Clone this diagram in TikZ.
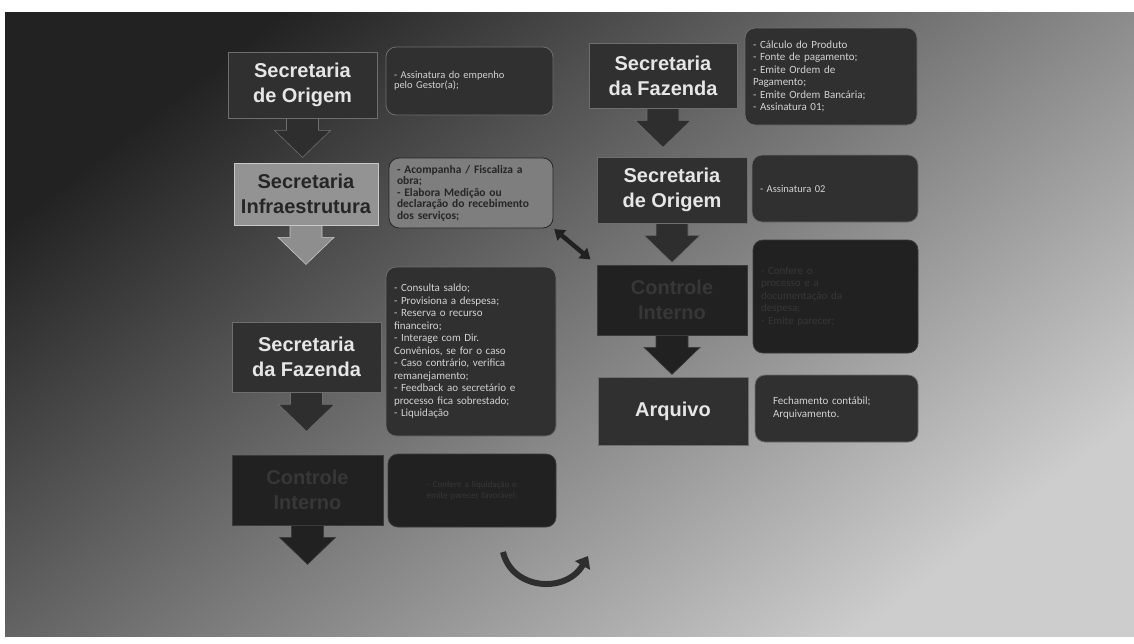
\documentclass[tikz,border=0pt]{standalone}
\usepackage{fontspec}
\setmainfont{Liberation Sans}
\newfontfamily\detfont{Carlito}
\usetikzlibrary{calc,arrows.meta}
\pgfdeclarelayer{back}
\pgfdeclarelayer{arrows}
\pgfsetlayers{back,arrows,main}
\definecolor{bgA}{HTML}{222222}
\definecolor{bgB}{HTML}{6A6A6A}
\definecolor{bgC}{HTML}{CDCDCD}
\definecolor{boxfill}{HTML}{303030}
\definecolor{boxline}{HTML}{6E6E6E}
\definecolor{ttext}{HTML}{E6E6E6}
\definecolor{dtext}{HTML}{D2D2D2}
\definecolor{ctlfill}{HTML}{212121}
\definecolor{ctlline}{HTML}{3A3A3A}
\definecolor{ctltext}{HTML}{373737}
\definecolor{infrafill}{HTML}{939393}
\definecolor{infraline}{HTML}{C8C8C8}
\definecolor{infratext}{HTML}{262626}
\definecolor{infradfill}{HTML}{7E7E7E}
\definecolor{arrowfill}{HTML}{2E2E2E}
\newcommand\blockarrow[2]{%
  \filldraw[#1] ($(#2.south)+(-16,-2)$) -- ($(#2.south)+(-16,12)$) -- ($(#2.south)+(-28,12)$)
    -- ($(#2.south)+(0,39)$) -- ($(#2.south)+(28,12)$) -- ($(#2.south)+(16,12)$)
    -- ($(#2.south)+(16,-2)$) -- cycle;}
\begin{document}
\begin{tikzpicture}[x=1pt,y=-1pt,
  titlebox/.style={draw=boxline, line width=0.8pt, fill=boxfill, text=ttext,
    font=\fontsize{20}{25}\selectfont\bfseries, align=center, inner sep=0pt},
  ctlbox/.style={titlebox, fill=ctlfill, draw=ctlline, text=ctltext},
  infrabox/.style={titlebox, fill=infrafill, draw=infraline, text=infratext},
  detbox/.style={draw=boxline, line width=0.8pt, fill=boxfill, text=dtext, rounded corners=10pt,
    align=left, inner xsep=8pt, inner ysep=4pt, font=\detfont\fontsize{11}{12.5}\selectfont},
  ctldet/.style={detbox, fill=ctlfill, draw=ctlline, text=ctltext},
  infradet/.style={detbox, fill=infradfill, draw=infratext, text=infratext,
    font=\detfont\bfseries\fontsize{11.5}{11.5}\selectfont},
  darrow/.style={fill=arrowfill, draw=boxline, line width=0.6pt},
  carrow/.style={fill=ctlfill, draw=ctlline, line width=0.6pt},
  larrow/.style={fill=infrafill!105, draw=infraline, line width=0.6pt},
  link/.style={draw=ctlfill, line width=4.5pt}
]
\useasboundingbox (0,0) rectangle (1134,643);
\begin{pgfonlayer}{back}
\fill[white] (0,0) rectangle (1134,643);
\shade[top color=bgA, middle color=bgB, bottom color=bgC, shading angle=38] (5,12) rectangle (1134,636);
\end{pgfonlayer}

% ---------- left column ----------
\node[titlebox, minimum width=149pt, minimum height=66pt] (oA) at (302.5,85) {Secretaria\\de Origem};
\node[detbox, minimum width=167pt, minimum height=68pt, text width=151pt,
  font=\detfont\fontsize{10.5}{10}\selectfont] (dA) at (469.5,81)
  {- Assinatura do empenho\\pelo Gestor(a);};

\node[infrabox, minimum width=144pt, minimum height=62pt] (iL) at (306,194) {Secretaria\\Infraestrutura};
\node[infradet, minimum width=164pt, minimum height=70pt, text width=148pt] (dI) at (471,193)
  {- Acompanha / Fiscaliza a\\obra;\\- Elabora Medição ou\\declaração do recebimento\\dos serviços;};

\node[titlebox, minimum width=149pt, minimum height=70pt] (fL) at (306.5,357) {Secretaria\\da Fazenda};
\node[detbox, minimum width=170pt, minimum height=169pt, text width=154pt] (dF) at (471,351.5)
  {- Consulta saldo;\\- Provisiona a despesa;\\- Reserva o recurso\\financeiro;\\- Interage com Dir.\\Convênios, se for o caso\\- Caso contrário, verifica\\remanejamento;\\- Feedback ao secretário e\\processo fica sobrestado;\\- Liquidação};

\node[ctlbox, minimum width=151pt, minimum height=70pt] (cL) at (307.5,490) {Controle\\Interno};
\node[ctldet, minimum width=168pt, minimum height=73pt, text width=152pt,
  font=\detfont\fontsize{9}{10.5}\selectfont, align=center] (dC) at (472,490.5)
  {- Confere a liquidação e\\emite parecer favorável;};

% ---------- right column ----------
\node[titlebox, minimum width=148pt, minimum height=65pt] (fR) at (663,75.5) {Secretaria\\da Fazenda};
\node[detbox, minimum width=172pt, minimum height=97pt, text width=156pt] (dFR) at (831,76.5)
  {- Cálculo do Produto\\- Fonte de pagamento;\\- Emite Ordem de\\Pagamento;\\- Emite Ordem Bancária;\\- Assinatura 01;};

\node[titlebox, minimum width=150pt, minimum height=66pt] (oR) at (672,190) {Secretaria\\de Origem};
\node[detbox, minimum width=166pt, minimum height=67pt, text width=150pt,
  font=\detfont\fontsize{10.5}{12}\selectfont] (dOR) at (835,188.5) {- Assinatura 02};

\node[ctlbox, minimum width=150pt, minimum height=70pt] (cR) at (672,300) {Controle\\Interno};
\node[ctldet, minimum width=165pt, minimum height=113pt, text width=149pt] (dCR) at (835.5,296.5)
  {- Confere o\\processo e a\\documentação da\\despesa;\\- Emite parecer;};

\node[titlebox, minimum width=150pt, minimum height=68pt] (aR) at (673,411) {Arquivo};
\node[detbox, minimum width=163pt, minimum height=67pt, text width=147pt,
  font=\detfont\fontsize{11}{13}\selectfont] (dAR) at (836.5,408.5)
  {\hspace*{10pt}Fechamento contábil;\\\hspace*{10pt}Arquivamento.};

% ---------- block arrows, on a layer behind the boxes ----------
\begin{pgfonlayer}{arrows}
\blockarrow{darrow}{oA}
\blockarrow{larrow}{iL}
\blockarrow{darrow}{fL}
\blockarrow{carrow}{cL}
\blockarrow{darrow}{fR}
\blockarrow{darrow}{oR}
\blockarrow{carrow}{cR}
\end{pgfonlayer}

% ---------- link between Infraestrutura detail and Controle Interno ----------
\draw[link, {Triangle[length=10pt,width=13pt]}-{Triangle[length=10pt,width=13pt]},
  shorten <=1pt, shorten >=8pt] (dI.south east) -- (cR.north west);

% ---------- curved return arrow ----------
\coordinate (cu1) at (503,552);
\coordinate (cu2) at (588,556);
\draw[draw=arrowfill, line width=6pt, -{Triangle[length=11pt,width=17pt]}]
  (cu1) .. controls (512,590) and (566,594) .. (cu2);
\end{tikzpicture}
\end{document}
